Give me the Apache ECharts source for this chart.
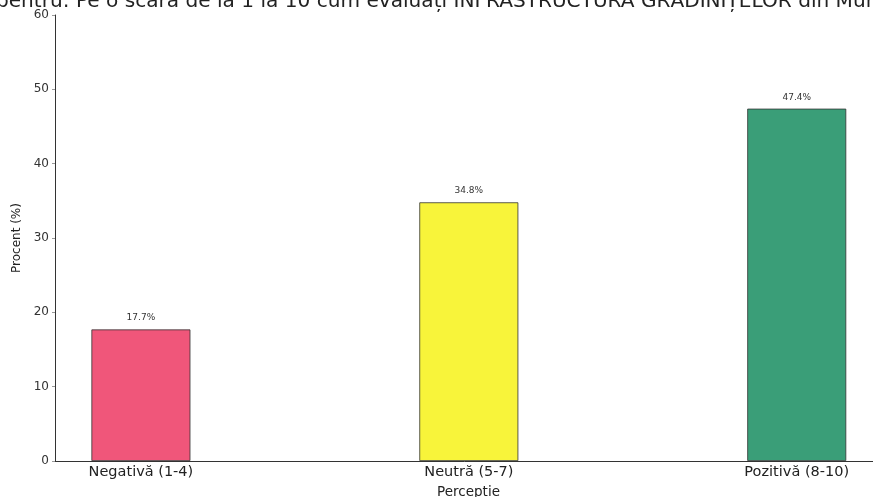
<!DOCTYPE html>
<html>
<head>
<meta charset="utf-8">
<script src="https://cdn.jsdelivr.net/npm/echarts@6/dist/echarts.min.js"></script>
<style>
  html, body { margin: 0; padding: 0; background: #fff; }
  #chart { width: 873px; height: 497px; }
</style>
</head>
<body>
<div id="chart"></div>
<script>
// Perception categories and their share of answers (%)
const categories = ['Negativă (1-4)', 'Neutră (5-7)', 'Pozitivă (8-10)'];
const percentages = [17.7, 34.8, 47.4];
const barColors = ['#f0567a', '#f8f43a', '#3a9e78'];
const yTicks = [0, 10, 20, 30, 40, 50, 60];

const titleText = 'pentru: Pe o scară de la 1 la 10 cum evaluați INFRASTRUCTURA GRĂDINIȚELOR din Municipiu';
const font = 'DejaVu Sans, sans-serif';

const chart = echarts.init(document.getElementById('chart'), null, { renderer: 'canvas' });

chart.setOption({
  backgroundColor: '#ffffff',
  animation: false,
  graphic: [{
    type: 'text',
    left: -4,
    top: -8,
    style: {
      text: titleText,
      font: '20.1px ' + font,
      fill: '#222'
    }
  }],
  grid: { left: 55, right: -9, top: 15, bottom: 36, containLabel: false, outerBoundsMode: 'none' },
  xAxis: {
    type: 'value',
    min: -0.262,
    max: 2.26,
    splitLine: { show: false },
    axisLine: { show: true, onZero: false, lineStyle: { color: '#333', width: 1 } },
    axisTick: { show: false },
    axisLabel: {
      customValues: [0, 1, 2],
      formatter: v => categories[Math.round(v)],
      color: '#222',
      fontFamily: font,
      fontSize: 14.5,
      margin: 4
    },
    name: 'Perceptie',
    nameLocation: 'middle',
    nameGap: 24,
    nameTextStyle: { color: '#222', fontFamily: font, fontSize: 13.5 }
  },
  yAxis: {
    type: 'value',
    min: yTicks[0],
    max: yTicks[yTicks.length - 1],
    interval: 10,
    splitLine: { show: false },
    axisLine: { show: true, onZero: false, lineStyle: { color: '#333', width: 1 } },
    axisTick: { show: true, length: 3, lineStyle: { color: '#999' } },
    axisLabel: { color: '#333', fontFamily: font, fontSize: 12, margin: 6 },
    name: 'Procent (%)',
    nameLocation: 'middle',
    nameGap: 32,
    nameTextStyle: { color: '#222', fontFamily: font, fontSize: 12 }
  },
  series: [{
    type: 'bar',
    barWidth: 99,
    data: percentages.map((v, i) => ({
      value: [i, v],
      itemStyle: { color: barColors[i], borderColor: '#333', borderWidth: 0.8 }
    })),
    label: {
      show: true,
      position: 'top',
      distance: 7,
      formatter: p => p.value[1].toFixed(1) + '%',
      fontFamily: font,
      fontSize: 9,
      color: '#333'
    }
  }]
});
</script>
</body>
</html>
